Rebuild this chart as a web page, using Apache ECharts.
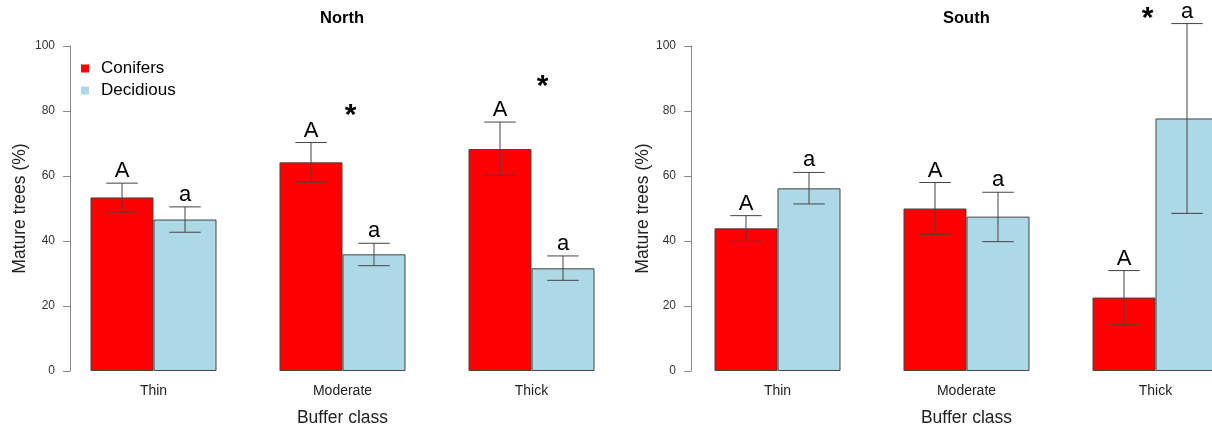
<!DOCTYPE html>
<html><head><meta charset="utf-8">
<script src="https://cdn.jsdelivr.net/npm/echarts@6/dist/echarts.min.js"></script>
<style>html,body{margin:0;padding:0;background:#fff}#c{width:1212px;height:429px}</style>
</head><body><div id="c"></div>
<script>
const categories = ['Thin', 'Moderate', 'Thick'];
const yTicks = [0, 20, 40, 60, 80, 100];
const seriesNames = ['Conifers', 'Decidious'];
const panelTitles = ['North', 'South'];

const northConifers = [53.4, 64.2, 68.3];
const northConifersLow = [48.9, 58.1, 60.2];
const northConifersHigh = [57.8, 70.3, 76.6];
const northDecidious = [46.6, 35.9, 31.6];
const northDecidiousLow = [42.7, 32.4, 27.9];
const northDecidiousHigh = [50.5, 39.3, 35.4];

const southConifers = [43.9, 50.0, 22.6];
const southConifersLow = [39.9, 42.1, 14.2];
const southConifersHigh = [47.8, 58.0, 30.9];
const southDecidious = [56.2, 47.5, 77.7];
const southDecidiousLow = [51.4, 39.8, 48.5];
const southDecidiousHigh = [61.1, 55.0, 106.9];

const conifersLetters = ['A', 'A', 'A'];
const decidiousLetters = ['a', 'a', 'a'];
// significance stars: height (data units) per category, null = none
const northStars = [null, 80.2, 88.9];
const southStars = [null, null, 109.9];

const RED = '#ff0000', BLUE = '#add8e6';
const FONT = '"Liberation Sans", Arial, sans-serif';

const chart = echarts.init(document.getElementById('c'), null, {renderer: 'canvas'});

const starOffsets = [[0, 8, 11], [0, 0, -8]];

function errItems(lowC, highC, lowD, highD) {
  const out = [];
  for (let i = 0; i < categories.length; i++) {
    out.push([i, 0, lowC[i], highC[i]]);
    out.push([i, 1, lowD[i], highD[i]]);
  }
  return out;
}

function renderErr(params, api) {
  const cat = api.value(0), which = api.value(1);
  const lo = api.value(2), hi = api.value(3);
  const letter = (which === 0 ? conifersLetters : decidiousLetters)[cat];
  const bw = api.size([1, 0])[0] / 3;
  const c = api.coord([cat, 0]);
  const x = c[0] + (which === 0 ? -bw / 2 : bw / 2);
  const pLo = api.coord([cat, lo])[1], pHi = api.coord([cat, hi])[1];
  const cap = bw / 2;
  const style = {stroke: '#444', lineWidth: 1};
  return {
    type: 'group',
    children: [
      {type: 'line', shape: {x1: x, y1: pLo, x2: x, y2: pHi}, style},
      {type: 'line', shape: {x1: x - cap / 2, y1: pLo, x2: x + cap / 2, y2: pLo}, style},
      {type: 'line', shape: {x1: x - cap / 2, y1: pHi, x2: x + cap / 2, y2: pHi}, style},
      {type: 'text', style: {text: letter, x: x, y: pHi - 1, align: 'center', verticalAlign: 'bottom',
        font: '22px ' + FONT, fill: '#000'}}
    ]
  };
}

function starItems(stars) {
  const out = [];
  stars.forEach((v, i) => { if (v !== null) out.push([i, v]); });
  return out;
}

function makeStarRender(panel) {
  return function (params, api) {
    const cat = api.value(0), v = api.value(1);
    const p = api.coord([cat, v]);
    return {type: 'text', style: {text: '*', x: p[0] + starOffsets[panel][cat], y: p[1] + 5,
      align: 'center', verticalAlign: 'middle', font: 'bold 30px ' + FONT, fill: '#000'}};
  };
}

const grids = [
  {left: 59, top: 46, width: 567, height: 325, containLabel: false, outerBoundsMode: 'none'},
  {left: 683, top: 46, width: 567, height: 325, containLabel: false, outerBoundsMode: 'none'}
];
const axisOffsets = [-11, -8];
const nameGaps = [41, 37];
const titleLefts = [320, 943];

const xAxes = grids.map((g, i) => ({
  type: 'category', gridIndex: i, data: categories,
  axisLine: {show: false}, axisTick: {show: false},
  axisLabel: {margin: 13, fontSize: 14, color: '#222', fontFamily: FONT},
  name: 'Buffer class', nameLocation: 'middle', nameGap: 38,
  nameTextStyle: {fontSize: 17.5, color: '#222', fontFamily: FONT}
}));
const yAxes = grids.map((g, i) => ({
  type: 'value', gridIndex: i, min: yTicks[0], max: yTicks[yTicks.length - 1], interval: 20,
  offset: axisOffsets[i],
  axisLine: {show: true, lineStyle: {color: '#888'}},
  axisTick: {show: true, length: 7, lineStyle: {color: '#888'}},
  axisLabel: {margin: 15, fontSize: 12, color: '#333', fontFamily: FONT},
  splitLine: {show: false},
  name: 'Mature trees (%)', nameLocation: 'middle', nameGap: nameGaps[i],
  nameTextStyle: {fontSize: 17.5, color: '#222', fontFamily: FONT}
}));

const barStyle = c => ({color: c, borderColor: '#444', borderWidth: 1});

const option = {
  animation: false,
  backgroundColor: '#fff',
  title: panelTitles.map((t, i) => ({
    text: t, left: titleLefts[i], top: 10, padding: 0,
    textStyle: {fontSize: 16.5, fontWeight: 'bold', color: '#000', fontFamily: FONT}
  })),
  legend: {
    data: seriesNames, orient: 'vertical', left: 81, top: 60, padding: 0,
    icon: 'rect', itemWidth: 8, itemHeight: 8, itemGap: 5,
    itemStyle: {borderWidth: 0},
    textStyle: {fontSize: 17, lineHeight: 17, color: '#000', fontFamily: FONT, padding: [0, 0, 0, 7]}
  },
  grid: grids,
  xAxis: xAxes,
  yAxis: yAxes,
  series: [
    {name: seriesNames[0], type: 'bar', xAxisIndex: 0, yAxisIndex: 0, data: northConifers,
      barGap: '0%', barCategoryGap: '33.333%', itemStyle: barStyle(RED)},
    {name: seriesNames[1], type: 'bar', xAxisIndex: 0, yAxisIndex: 0, data: northDecidious,
      barGap: '0%', barCategoryGap: '33.333%', itemStyle: barStyle(BLUE)},
    {name: seriesNames[0], type: 'bar', xAxisIndex: 1, yAxisIndex: 1, data: southConifers,
      barGap: '0%', barCategoryGap: '33.333%', itemStyle: barStyle(RED)},
    {name: seriesNames[1], type: 'bar', xAxisIndex: 1, yAxisIndex: 1, data: southDecidious,
      barGap: '0%', barCategoryGap: '33.333%', itemStyle: barStyle(BLUE)},
    {type: 'custom', xAxisIndex: 0, yAxisIndex: 0, clip: false, z: 5,
      data: errItems(northConifersLow, northConifersHigh, northDecidiousLow, northDecidiousHigh),
      renderItem: renderErr},
    {type: 'custom', xAxisIndex: 1, yAxisIndex: 1, clip: false, z: 5,
      data: errItems(southConifersLow, southConifersHigh, southDecidiousLow, southDecidiousHigh),
      renderItem: renderErr},
    {type: 'custom', xAxisIndex: 0, yAxisIndex: 0, clip: false, z: 5,
      data: starItems(northStars), renderItem: makeStarRender(0)},
    {type: 'custom', xAxisIndex: 1, yAxisIndex: 1, clip: false, z: 5,
      data: starItems(southStars), renderItem: makeStarRender(1)}
  ]
};
chart.setOption(option);
</script>
</body></html>
